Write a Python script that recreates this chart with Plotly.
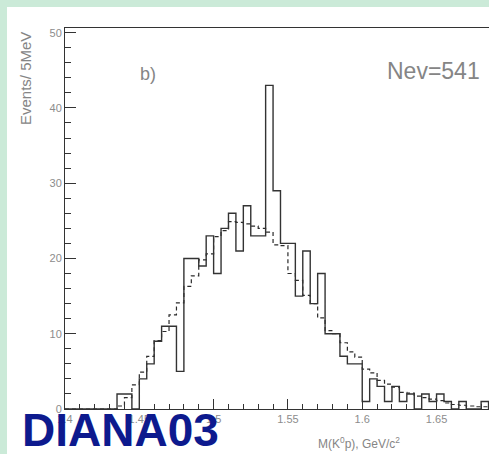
import plotly.graph_objects as go

# Histogram binning: 5 MeV bins starting at 1.40 GeV
bin_start = 1.40
bin_width = 0.005

# Measured K0 p invariant mass spectrum (events per bin)
data_counts = [0, 0, 0, 0, 0, 0, 0, 2, 2, 0,
               4, 6, 9, 11, 11, 5, 20, 20, 19, 23,
               18, 24, 26, 21, 27, 23, 23, 43, 29, 22,
               22, 15, 21, 14, 18, 10, 10, 7, 6, 6,
               1, 4, 3, 1, 3, 1, 2, 0, 2, 1,
               2, 1, 0, 1, 0, 0, 1, 0]

# Background estimate (dashed histogram)
bkg_counts = [0, 0, 0, 0, 0, 0, 0, 0.4, 1.5, 3.2,
              4.9, 7.0, 9.1, 10.3, 12.5, 14.1, 16.3, 17.7, 19.8, 20.6,
              22.9, 23.7, 24.9, 24.8, 24.6, 24.3, 24.0, 23.5, 21.8, 21.7,
              18.0, 17.1, 15.1, 14.0, 12.1, 10.4, 10.0, 8.8, 7.6, 6.9,
              5.3, 4.8, 3.8, 3.3, 2.9, 2.2, 2.1, 1.7, 1.5, 1.3,
              1.1, 0.8, 0.6, 0.5, 0.4, 0.3, 0.3, 0.3]

x_tick_vals = [1.40, 1.45, 1.50, 1.55, 1.60, 1.65]
x_tick_text = ["1.4", "1.45", "1.5", "1.55", "1.6", "1.65"]
y_tick_vals = [0, 10, 20, 30, 40, 50]
y_tick_text = ["0", "10", "20", "30", "40", "50"]

n_bins = len(data_counts)
edges = [round(bin_start + bin_width * i, 4) for i in range(n_bins + 1)]

W, H = 489, 454
ML, MT, MR, MB = 65, 28, 0, 45
PW, PH = W - ML - MR, H - MT - MB


def px(x):
    return (x - ML) / PW


def py(y):
    return (H - MB - y) / PH


fig = go.Figure()

fig.add_trace(go.Scatter(
    x=edges, y=bkg_counts + [bkg_counts[-1]], mode="lines",
    line=dict(shape="hv", color="#2a2a2a", width=1.2, dash="4px,3px"),
    hoverinfo="skip", showlegend=False,
))
fig.add_trace(go.Scatter(
    x=edges, y=data_counts + [data_counts[-1]], mode="lines",
    line=dict(shape="hv", color="#333333", width=1.4),
    hoverinfo="skip", showlegend=False,
))

axis_font = dict(family="Liberation Sans, Arial, sans-serif", size=11, color="#8c8c8c")
text_gray = "#858585"

fig.update_xaxes(
    range=[1.40, 1.6853], showgrid=False, zeroline=False,
    showline=True, linecolor="#333", linewidth=1, mirror=True,
    ticks="inside", ticklen=10, tickcolor="#333", tickwidth=1,
    tickvals=x_tick_vals, ticktext=x_tick_text, tickfont=axis_font,
    minor=dict(dtick=0.01, tick0=1.40, ticks="inside", ticklen=5,
               tickcolor="#333", tickwidth=1, showgrid=False),
)
fig.update_yaxes(
    range=[0, 50.62], showgrid=False, zeroline=False,
    showline=True, linecolor="#333", linewidth=1, mirror=False,
    ticks="inside", ticklen=11, tickcolor="#333", tickwidth=1,
    tickvals=y_tick_vals, ticktext=y_tick_text, tickfont=axis_font,
    minor=dict(dtick=2, tick0=0, ticks="inside", ticklen=6,
               tickcolor="#333", tickwidth=1, showgrid=False),
)

# Page background: mint border on top and left, white panel
green = "#cbead8"
shapes = [
    dict(type="rect", xref="paper", yref="paper", layer="below",
         x0=px(0), x1=px(W), y0=py(H), y1=py(0),
         fillcolor=green, line=dict(width=0)),
    dict(type="rect", xref="paper", yref="paper", layer="below",
         x0=px(7), x1=px(W + 2), y0=py(H + 2), y1=py(7),
         fillcolor="white", line=dict(width=0)),
]

annotations = [
    dict(text="Events/ 5MeV", x=px(25), y=py(79), xref="paper", yref="paper",
         textangle=-90, showarrow=False, xanchor="center", yanchor="middle",
         font=dict(family="Liberation Sans, Arial, sans-serif", size=15, color=text_gray)),
    dict(text="b)", x=px(148), y=py(74), xref="paper", yref="paper",
         showarrow=False, xanchor="center", yanchor="middle",
         font=dict(family="Liberation Sans, Arial, sans-serif", size=18, color=text_gray)),
    dict(text="Nev=541", x=px(433), y=py(71), xref="paper", yref="paper",
         showarrow=False, xanchor="center", yanchor="middle",
         font=dict(family="Liberation Sans, Arial, sans-serif", size=23, color=text_gray)),
    dict(text="M(K<sup>0</sup>p), GeV/c<sup>2</sup>", x=px(359), y=py(443),
         xref="paper", yref="paper", showarrow=False,
         xanchor="center", yanchor="middle",
         font=dict(family="Liberation Sans, Arial, sans-serif", size=12, color=text_gray)),
    dict(text="<b>DIANA03</b>", x=px(20), y=py(430), xref="paper", yref="paper",
         showarrow=False, xanchor="left", yanchor="middle",
         font=dict(family="Liberation Sans, Arial, sans-serif", size=46, color="#0d1a8e")),
]

fig.update_layout(
    width=W, height=H,
    margin=dict(l=ML, r=MR, t=MT, b=MB),
    paper_bgcolor=green, plot_bgcolor="white",
    shapes=shapes, annotations=annotations,
    showlegend=False,
)

fig.write_html("out.html")
